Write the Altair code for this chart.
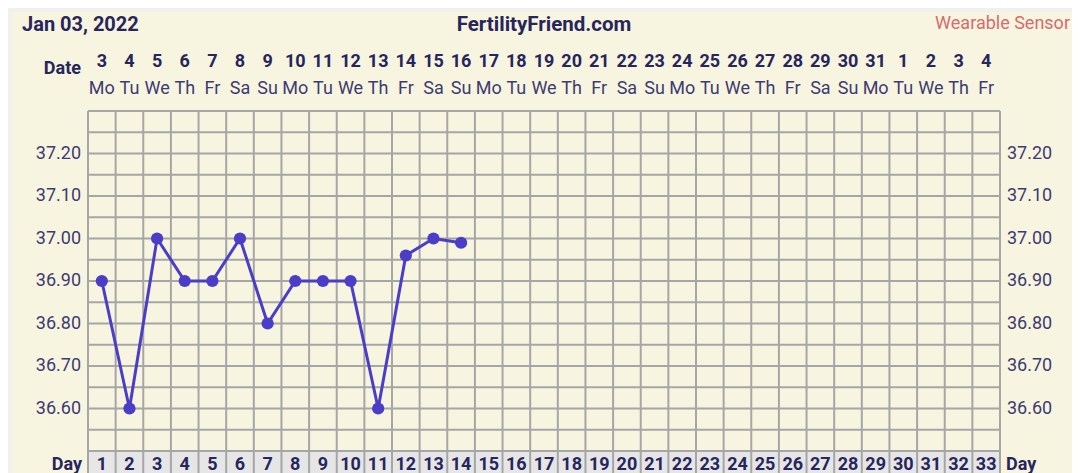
import altair as alt
import pandas as pd

# ---- data -------------------------------------------------------------
days = list(range(1, 34))
date_nums = [3, 4, 5, 6, 7, 8, 9, 10, 11, 12, 13, 14, 15, 16, 17, 18, 19, 20,
             21, 22, 23, 24, 25, 26, 27, 28, 29, 30, 31, 1, 2, 3, 4]
weekdays = ["Mo", "Tu", "We", "Th", "Fr", "Sa", "Su"] * 4 + ["Mo", "Tu", "We", "Th", "Fr"]

temp_days = [1, 2, 3, 4, 5, 6, 7, 8, 9, 10, 11, 12, 13, 14]
temps = [36.90, 36.60, 37.00, 36.90, 36.90, 37.00, 36.80, 36.90, 36.90, 36.90,
         36.60, 36.96, 37.00, 36.99]

y_labels = [36.60, 36.70, 36.80, 36.90, 37.00, 37.10, 37.20]
grid_y = [36.50, 36.55, 36.60, 36.65, 36.70, 36.75, 36.80, 36.85, 36.90,
          36.95, 37.00, 37.05, 37.10, 37.15, 37.20, 37.25, 37.30]
grid_x = [d - 0.5 for d in days] + [days[-1] + 0.5]

# ---- style ------------------------------------------------------------
W, H = 912, 340
CREAM = "#f7f5e0"
OUTER = "#f0f0f0"
DAYROW = "#e6e6e6"
GRID = "#a6a6a6"
LINE = "#4a3dc8"
NAVY = "#27265c"
LABEL = "#3d3b72"
RED = "#d76b6d"
FONT = "Roboto"

xs = alt.Scale(domain=[0.5, 33.5], nice=False, zero=False)
ys = alt.Scale(domain=[36.5, 37.3], nice=False, zero=False)

one = pd.DataFrame({"k": [0]})
cols = pd.DataFrame({"day": days, "date": [str(d) for d in date_nums], "wd": weekdays,
                     "dlab": [str(d) for d in days]})
temp_df = pd.DataFrame({"day": temp_days, "temp": temps})
ylab_df = pd.DataFrame({"v": y_labels})
gx_df = pd.DataFrame({"gx": grid_x})
gy_df = pd.DataFrame({"gy": grid_y})

X = lambda f: alt.X(f, scale=xs, axis=None)
Y = lambda f: alt.Y(f, scale=ys, axis=None)

panel = alt.Chart(one).mark_rect(color=CREAM).encode(
    x=alt.value(-76), x2=alt.value(989), y=alt.value(-99), y2=alt.value(420))
dayrow = alt.Chart(one).mark_rect(color=DAYROW).encode(
    x=alt.value(0), x2=alt.value(W), y=alt.value(H), y2=alt.value(H + 60))
vgrid = alt.Chart(gx_df).mark_rule(color=GRID, strokeWidth=2).encode(
    x=X("gx:Q"), y=alt.value(0), y2=alt.value(H + 60))
hgrid = alt.Chart(gy_df).mark_rule(color=GRID, strokeWidth=2).encode(
    y=Y("gy:Q"), x=alt.value(0), x2=alt.value(W))

line = alt.Chart(temp_df).mark_line(color=LINE, strokeWidth=3).encode(
    x=X("day:Q"), y=Y("temp:Q"))
pts = alt.Chart(temp_df).mark_circle(color=LINE, size=150, opacity=1).encode(
    x=X("day:Q"), y=Y("temp:Q"))

date_txt = alt.Chart(cols).mark_text(font=FONT, fontSize=18, fontWeight="bold",
                                     color=NAVY, baseline="alphabetic").encode(
    x=X("day:Q"), y=alt.value(-44), text="date:N")
wd_txt = alt.Chart(cols).mark_text(font=FONT, fontSize=18, color=LABEL,
                                   baseline="alphabetic").encode(
    x=X("day:Q"), y=alt.value(-17), text="wd:N")
day_txt = alt.Chart(cols).mark_text(font=FONT, fontSize=18, fontWeight="bold",
                                    color=NAVY, baseline="alphabetic").encode(
    x=X("day:Q"), y=alt.value(359), text="dlab:N")

ylab_l = alt.Chart(ylab_df).mark_text(font=FONT, fontSize=18, color=LABEL,
                                      align="right", baseline="middle").encode(
    y=Y("v:Q"), x=alt.value(-7), text=alt.Text("v:Q", format=".2f"))
ylab_r = alt.Chart(ylab_df).mark_text(font=FONT, fontSize=18, color=LABEL,
                                      align="left", baseline="middle").encode(
    y=Y("v:Q"), x=alt.value(919), text=alt.Text("v:Q", format=".2f"))


def label(txt, x, y, **kw):
    return alt.Chart(pd.DataFrame({"t": [txt]})).mark_text(
        font=FONT, baseline="alphabetic", **kw).encode(
        x=alt.value(x), y=alt.value(y), text="t:N")


t1 = label("Jan 03, 2022", -66, -80, fontSize=20, fontWeight="bold", color=NAVY, align="left")
t2 = label("FertilityFriend.com", 456, -80, fontSize=20.5, fontWeight="bold", color=NAVY, align="center")
t3 = label("Wearable Sensor", 982, -82, fontSize=18, color=RED, align="right")
t4 = label("Date", -7, -37, fontSize=18, fontWeight="bold", color=NAVY, align="right")
t5 = label("Day", -6, 359, fontSize=18, fontWeight="bold", color=NAVY, align="right")
t6 = label("Day", 918, 359, fontSize=18, fontWeight="bold", color=NAVY, align="left")

chart = alt.layer(
    panel, dayrow, vgrid, hgrid, line, pts,
    date_txt, wd_txt, day_txt, ylab_l, ylab_r, t1, t2, t3, t4, t5, t6
).properties(
    width=W, height=H,
    autosize="none",
    padding={"left": 80, "top": 103, "right": 72, "bottom": 22},
    background=OUTER,
).configure_view(stroke=None)

chart.save("out.html", embed_options={"renderer": "svg", "actions": False})
